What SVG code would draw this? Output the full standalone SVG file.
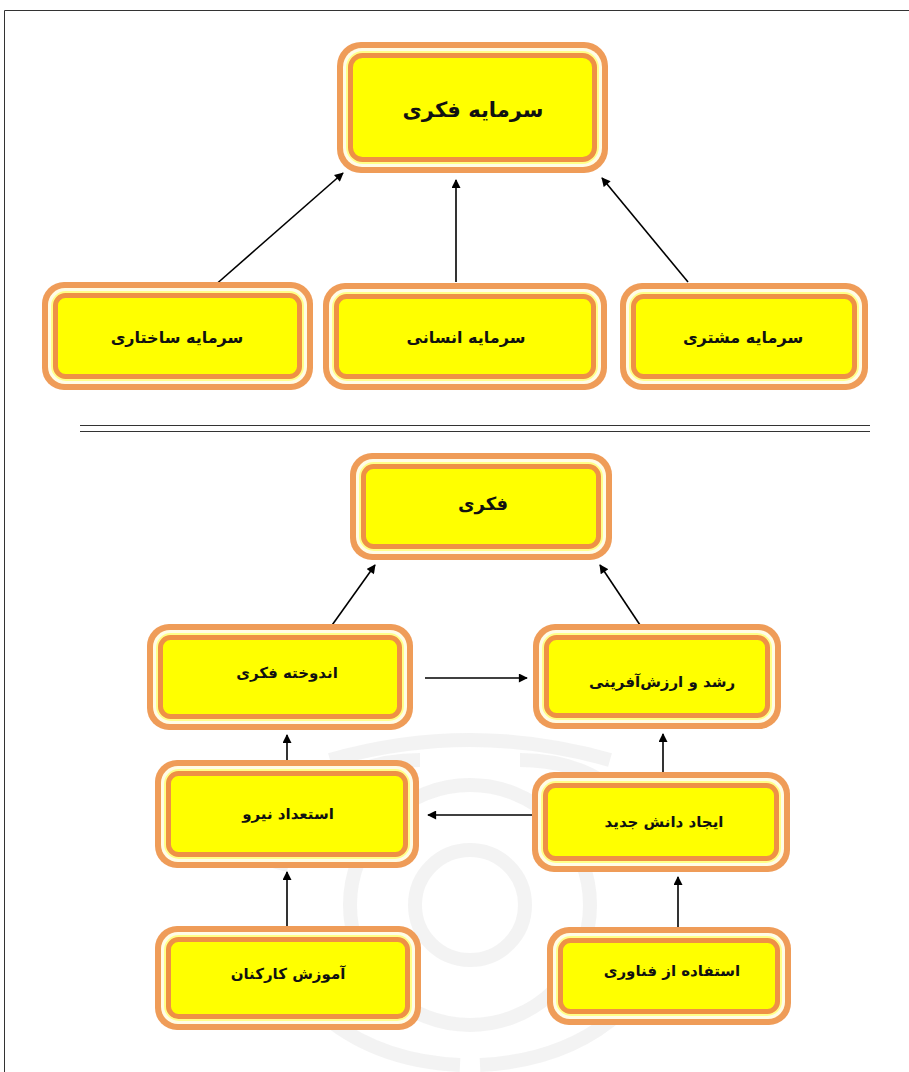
<svg xmlns="http://www.w3.org/2000/svg" width="909" height="1072" viewBox="0 0 909 1072">
<style>
.a{fill:#EF9C58}
.b{fill:#FFFCE6}
.c{fill:#FFFF88}
.d{fill:#FFFF00;stroke:#EE9145;stroke-width:5}
.t{font-family:"DejaVu Sans","Noto Sans",sans-serif;font-weight:bold;fill:#111;text-anchor:middle;dominant-baseline:central}
.ln{stroke:#000;stroke-width:1.6;fill:none;marker-end:url(#ah)}
.wm{fill:none;stroke:#9a9a9a;stroke-width:14;opacity:0.12}
</style>
<defs>
<marker id="ah" viewBox="0 0 10 10" refX="9" refY="5" markerWidth="10" markerHeight="9" markerUnits="userSpaceOnUse" orient="auto">
<path d="M0,0 L10,5 L0,10 z" fill="#000"/>
</marker>
</defs>
<rect width="909" height="1072" fill="#fff"/>
<path d="M4.5,1072 V10.5 H909" fill="none" stroke="#333" stroke-width="1"/>
<g id="watermark">
<circle class="wm" cx="470" cy="905" r="55"/>
<circle class="wm" cx="470" cy="905" r="120"/>
<path class="wm" d="M330,760 Q470,720 610,760"/>
<path class="wm" d="M280,870 Q310,760 420,760"/>
<path class="wm" d="M660,870 Q630,760 520,760"/>
<path class="wm" d="M290,980 Q350,1060 460,1065"/>
<path class="wm" d="M650,980 Q590,1060 480,1065"/>
</g>
<g id="connectors">
<line class="ln" x1="213" y1="287" x2="343" y2="173"/>
<line class="ln" x1="456" y1="282" x2="456" y2="180"/>
<line class="ln" x1="688" y1="282" x2="602" y2="178"/>
<line class="ln" x1="330" y1="628" x2="375" y2="565"/>
<line class="ln" x1="642" y1="628" x2="600" y2="565"/>
<line class="ln" x1="425" y1="678" x2="527" y2="678"/>
<line class="ln" x1="287" y1="760" x2="287" y2="735"/>
<line class="ln" x1="663" y1="772" x2="663" y2="734"/>
<line class="ln" x1="543" y1="815" x2="428" y2="815"/>
<line class="ln" x1="287" y1="930" x2="287" y2="872"/>
<line class="ln" x1="678" y1="935" x2="678" y2="877"/>
<line x1="80" y1="425.5" x2="870" y2="425.5" stroke="#333" stroke-width="1.2"/>
<line x1="80" y1="431.5" x2="870" y2="431.5" stroke="#333" stroke-width="1.2"/>
</g>
<g id="n-top">
<rect class="a" x="337" y="42" width="271" height="131" rx="24"/>
<rect class="b" x="343" y="48" width="259" height="119" rx="19"/>
<rect class="c" x="346" y="51" width="253" height="113" rx="17"/>
<rect class="d" x="350.5" y="55.5" width="244" height="104" rx="12"/>
<text class="t" x="473" y="110" font-size="21">سرمایه فکری</text>
</g>
<g id="n-t1">
<rect class="a" x="42" y="282" width="271" height="108" rx="22"/>
<rect class="b" x="48" y="288" width="259" height="96" rx="17"/>
<rect class="c" x="51" y="291" width="253" height="90" rx="15"/>
<rect class="d" x="55.5" y="295.5" width="244" height="81" rx="10"/>
<text class="t" x="177" y="337" font-size="16">سرمایه ساختاری</text>
</g>
<g id="n-t2">
<rect class="a" x="323" y="283" width="284" height="107" rx="22"/>
<rect class="b" x="329" y="289" width="272" height="95" rx="17"/>
<rect class="c" x="332" y="292" width="266" height="89" rx="15"/>
<rect class="d" x="336.5" y="296.5" width="257" height="80" rx="10"/>
<text class="t" x="466" y="337" font-size="16">سرمایه انسانی</text>
</g>
<g id="n-t3">
<rect class="a" x="620" y="283" width="248" height="107" rx="22"/>
<rect class="b" x="626" y="289" width="236" height="95" rx="17"/>
<rect class="c" x="629" y="292" width="230" height="89" rx="15"/>
<rect class="d" x="633.5" y="296.5" width="221" height="80" rx="10"/>
<text class="t" x="743" y="337" font-size="16">سرمایه مشتری</text>
</g>
<g id="n-b0">
<rect class="a" x="350" y="453" width="262" height="107" rx="22"/>
<rect class="b" x="356" y="459" width="250" height="95" rx="17"/>
<rect class="c" x="359" y="462" width="244" height="89" rx="15"/>
<rect class="d" x="363.5" y="466.5" width="235" height="80" rx="10"/>
<text class="t" x="483" y="503" font-size="18">فکری</text>
</g>
<g id="n-ml">
<rect class="a" x="147" y="624" width="266" height="106" rx="22"/>
<rect class="b" x="153" y="630" width="254" height="94" rx="17"/>
<rect class="c" x="156" y="633" width="248" height="88" rx="15"/>
<rect class="d" x="160.5" y="637.5" width="239" height="79" rx="10"/>
<text class="t" x="287" y="673" font-size="15">اندوخته فکری</text>
</g>
<g id="n-mr">
<rect class="a" x="533" y="624" width="248" height="105" rx="22"/>
<rect class="b" x="539" y="630" width="236" height="93" rx="17"/>
<rect class="c" x="542" y="633" width="230" height="87" rx="15"/>
<rect class="d" x="546.5" y="637.5" width="221" height="78" rx="10"/>
<text class="t" x="662" y="682" font-size="15">رشد و ارزش‌آفرینی</text>
</g>
<g id="n-ll">
<rect class="a" x="155" y="760" width="264" height="108" rx="22"/>
<rect class="b" x="161" y="766" width="252" height="96" rx="17"/>
<rect class="c" x="164" y="769" width="246" height="90" rx="15"/>
<rect class="d" x="168.5" y="773.5" width="237" height="81" rx="10"/>
<text class="t" x="288" y="814" font-size="15">استعداد نیرو</text>
</g>
<g id="n-lr">
<rect class="a" x="532" y="772" width="258" height="100" rx="22"/>
<rect class="b" x="538" y="778" width="246" height="88" rx="17"/>
<rect class="c" x="541" y="781" width="240" height="82" rx="15"/>
<rect class="d" x="545.5" y="785.5" width="231" height="73" rx="10"/>
<text class="t" x="664" y="822" font-size="15">ایجاد دانش جدید</text>
</g>
<g id="n-bl">
<rect class="a" x="155" y="926" width="266" height="104" rx="22"/>
<rect class="b" x="161" y="932" width="254" height="92" rx="17"/>
<rect class="c" x="164" y="935" width="248" height="86" rx="15"/>
<rect class="d" x="168.5" y="939.5" width="239" height="77" rx="10"/>
<text class="t" x="288" y="974" font-size="15">آموزش کارکنان</text>
</g>
<g id="n-br">
<rect class="a" x="547" y="927" width="244" height="98" rx="22"/>
<rect class="b" x="553" y="933" width="232" height="86" rx="17"/>
<rect class="c" x="556" y="936" width="226" height="80" rx="15"/>
<rect class="d" x="560.5" y="940.5" width="217" height="71" rx="10"/>
<text class="t" x="672" y="971" font-size="15">استفاده از فناوری</text>
</g>
</svg>
